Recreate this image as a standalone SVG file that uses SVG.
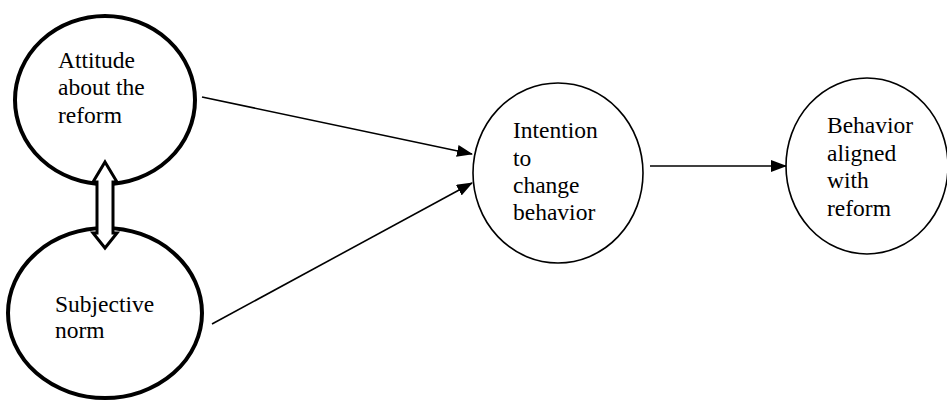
<svg xmlns="http://www.w3.org/2000/svg" width="947" height="400" viewBox="0 0 947 400">
<style>
.thick{fill:#fff;stroke:#000;stroke-width:4}
.thin{fill:#fff;stroke:#000;stroke-width:1.6}
.lbl{font-family:"Liberation Serif","Times New Roman",serif;font-size:23.5px;fill:#000}
.conn{stroke:#000;stroke-width:1.6;fill:none}
</style>
<defs>
<marker id="ah" markerWidth="16" markerHeight="12" refX="15" refY="6" orient="auto" markerUnits="userSpaceOnUse">
<path d="M0,0 L16,6 L0,12 Z" fill="#000"/>
</marker>
</defs>
<g id="node-attitude">
<ellipse class="thick" cx="105" cy="100" rx="90" ry="84"/>
<text class="lbl" x="58" y="68">Attitude</text>
<text class="lbl" x="58" y="95">about the</text>
<text class="lbl" x="58" y="123">reform</text>
</g>
<g id="node-subjective">
<ellipse class="thick" cx="105" cy="313" rx="97" ry="85"/>
<text class="lbl" x="55" y="312">Subjective</text>
<text class="lbl" x="55" y="338">norm</text>
</g>
<g id="node-intention">
<ellipse class="thin" cx="558" cy="173" rx="85" ry="90"/>
<text class="lbl" x="513" y="138">Intention</text>
<text class="lbl" x="513" y="166">to</text>
<text class="lbl" x="513" y="193">change</text>
<text class="lbl" x="513" y="220">behavior</text>
</g>
<g id="node-behavior">
<ellipse class="thin" cx="867" cy="166" rx="81" ry="88"/>
<text class="lbl" x="827" y="133">Behavior</text>
<text class="lbl" x="827" y="161">aligned</text>
<text class="lbl" x="827" y="188">with</text>
<text class="lbl" x="827" y="216">reform</text>
</g>
<g id="connectors">
<path d="M105,162 L117,182 L113,182 L113,233 L117,233 L105,248 L93,233 L97,233 L97,182 L93,182 Z" fill="#fff" stroke="#000" stroke-width="3" stroke-linejoin="miter"/>
<line class="conn" x1="202" y1="97" x2="472" y2="154" marker-end="url(#ah)"/>
<line class="conn" x1="212" y1="324" x2="472" y2="183" marker-end="url(#ah)"/>
<line class="conn" x1="650" y1="166" x2="786" y2="166" marker-end="url(#ah)"/>
</g>
</svg>
